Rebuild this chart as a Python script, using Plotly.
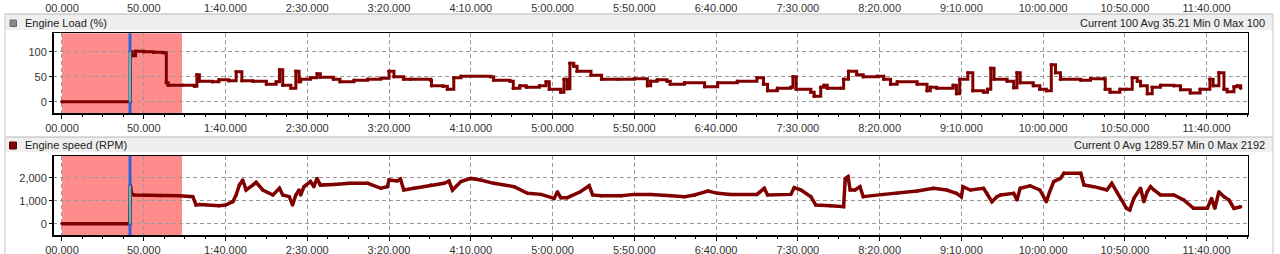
import plotly.graph_objects as go

W, H = 1280, 254

# ---------------- data ----------------
tick_vals = [0, 50, 100, 150, 200, 250, 300, 350, 400, 450, 500, 550, 600, 650, 700]
tick_text = ["00.000", "50.000", "1:40.000", "2:30.000", "3:20.000", "4:10.000", "5:00.000",
             "5:50.000", "6:40.000", "7:30.000", "8:20.000", "9:10.000", "10:00.000",
             "10:50.000", "11:40.000"]

load_t = [0, 41.5, 41.8, 43, 45, 50, 56, 61.8, 63.8, 65, 74, 81, 82.5, 84, 92, 96, 102, 106.5, 110,
          116.7, 125, 131, 133, 135, 140, 143, 145,
          146, 152, 156, 158, 166, 170, 178.6, 187, 195, 200, 203, 209, 213, 225.5, 226, 233, 235.7,
          239.6, 244, 262, 264, 274, 276, 280, 284, 292, 296, 298, 305, 307, 309, 310.6, 313, 315,
          323.5, 330, 340, 350, 358,
          360, 364, 370, 372, 380.7, 393, 401, 413, 425, 429, 431.5, 437.5, 445.7, 447, 449, 458, 460,
          464, 466, 468, 476, 478, 481, 486, 490, 498.6, 502.6, 506.7, 510.8, 523, 529, 531, 535, 545,
          547, 549, 554, 557, 563.6,
          566, 568, 570, 578, 582, 584, 586, 594, 598, 602, 605, 607.6, 610.6, 623, 629, 637, 638, 641,
          647, 651, 654.5, 657.6, 659.6, 663.7, 666.7, 671.8, 680, 684, 690, 696, 702, 704, 707.5,
          710.6, 712.6, 716.7, 718.7, 720.8]
load_v = [0, 0, 100, 92, 101, 100, 99, 98, 38, 33, 33, 31, 54, 41, 40, 44, 42, 60, 42,
          41, 35, 40, 64, 33, 27, 61, 40,
          45, 48, 56, 49, 45, 40, 43, 45, 47, 61, 50, 45, 45, 43, 32, 31, 25,
          48, 51, 50, 43, 41, 27, 32, 29, 32, 40, 25, 19, 45, 26, 77, 71, 61,
          53, 45, 45, 46, 32,
          41, 44, 41, 35, 38, 30, 38, 41, 48, 35, 22, 27, 29, 50, 25, 19, 11,
          29, 33, 27, 27, 45, 61, 54, 50, 51, 45, 35, 40, 35, 22, 29, 27, 33,
          16, 45, 58, 22, 19,
          25, 67, 45, 41, 28, 58, 38, 32, 25, 22, 74, 58, 45, 43, 46, 46, 25, 19,
          25, 25, 48, 41, 32, 16, 29, 33, 32, 24, 17.5, 25, 45, 32, 58,
          25, 20, 30, 32, 27]

speed_t = [0, 41.5, 41.8, 42.5, 44, 50, 60, 72, 80, 82, 84, 96, 100, 104.5, 106.5, 108.5, 110.5,
           112.6, 116.7, 118.7, 122.8, 129, 133, 135, 139, 141, 143, 145,
           146, 148, 152, 154, 156, 158, 166, 176, 187, 195, 199, 200, 205, 207, 209, 215, 225.5,
           233.7, 236.7, 238.8, 244, 250, 256, 264, 276.5, 284.7, 293, 301, 303, 305, 309, 317,
           322.4, 324.5, 329.6, 342, 350, 360,
           372.6, 380.7, 386.8, 395, 401, 409, 425, 429.5, 431.5, 445.7, 447.8, 452, 458, 461, 470,
           478, 479, 480.7, 482, 485, 488, 490, 502.6, 510.8, 523, 533, 541, 547, 550, 551, 555.5,
           563.6, 565.7, 568.7, 571.8,
           574, 582, 584, 586, 592, 598, 602, 604, 606.5, 610.6, 612.7, 623, 625, 631, 639, 642,
           645, 651, 653, 655.5, 659.6, 661.6, 663.7, 665.7, 667.8, 671.8, 680, 686, 692, 700.4,
           703, 705, 707.5, 710.6, 713.7, 716.7, 720.8]
speed_v = [0, 0, 1680, 1320, 1250, 1250, 1220, 1220, 1175, 812, 830, 783, 810, 957, 1250, 1680, 1900,
           1465, 1680, 1800, 1465, 1250, 1540, 1250, 1175, 812, 1250, 1465,
           1250, 1610, 1830, 1610, 1970, 1680, 1710, 1755, 1755, 1540, 1610, 1900, 1855, 1940, 1465,
           1540, 1680, 1755, 1855, 1465, 1830, 1970, 1900, 1755, 1610, 1320, 1275, 1100, 1390, 1130,
           1130, 1390, 1650, 1250, 1220, 1220, 1275, 1275,
           1220, 1175, 1250, 1420, 1320, 1275, 1275, 1540, 1250, 1275, 1570, 1465, 1175, 812, 783,
           740, 1970, 2045, 1465, 1465, 1610, 1175, 1275, 1320, 1420, 1540, 1465, 1320, 1175, 1610,
           1465, 1540, 1320, 957, 1175,
           1250, 1320, 1030, 1540, 1650, 1465, 957, 1390, 1830, 1970, 2190, 2192, 1680, 1610, 1465,
           1755, 1390, 667, 595, 1100, 1540, 957, 1390, 1610, 1465, 1250, 1250, 1030, 667, 667,
           1100, 667, 1390, 1175, 1030, 667, 740]

cursor_t = 41.6
cursor_load = 100
cursor_speed = 1650
shade_start, shade_end = 0, 73.4

load_title = "Engine Load (%)"
speed_title = "Engine speed (RPM)"
load_stats = "Current 100 Avg 35.21 Min 0 Max 100"
speed_stats = "Current 0 Avg 1289.57 Min 0 Max 2192"

# ---------------- layout helpers ----------------
def fx(x):
    return x / W

def fy(y):
    return 1 - y / H

FONT = "Liberation Sans"
DARK = "#800000"
XRANGE = [-5.5, 725.3]

fig = go.Figure()
fig.add_trace(go.Scatter(x=load_t, y=load_v, mode="lines+markers", xaxis="x", yaxis="y",
                         line=dict(color=DARK, width=3, shape="hv"), marker=dict(color=DARK, size=3.5),
                         showlegend=False, hoverinfo="skip"))
fig.add_trace(go.Scatter(x=speed_t, y=speed_v, mode="lines+markers", xaxis="x2", yaxis="y2",
                         line=dict(color=DARK, width=3.5), marker=dict(color=DARK, size=3.5),
                         showlegend=False, hoverinfo="skip"))
# invisible trace so the top strip axis is drawn
fig.add_trace(go.Scatter(x=[XRANGE[0]], y=[0], mode="markers", xaxis="x3", yaxis="y3",
                         marker=dict(opacity=0), showlegend=False, hoverinfo="skip"))

xcommon = dict(range=XRANGE, tickmode="array", tickvals=tick_vals, ticktext=tick_text,
               showgrid=True, gridcolor="#9a9a9a", griddash="4px,3px", gridwidth=1,
               ticks="outside", ticklen=4, tickcolor="#000", zeroline=False, automargin=False,
               showline=True, linecolor="#000", linewidth=1, mirror=True,
               tickfont=dict(family=FONT, size=11, color="#333"),
               minor=dict(tickmode="linear", tick0=0, dtick=12.5, ticks="outside", ticklen=2,
                          tickcolor="#000", showgrid=False))
ycommon = dict(showgrid=True, gridcolor="#9a9a9a", griddash="4px,3px", gridwidth=1,
               ticks="outside", ticklen=3, tickcolor="#000", zeroline=False, automargin=False,
               showline=True, linecolor="#000", linewidth=1, mirror=True,
               tickfont=dict(family=FONT, size=11, color="#333"))

xdom = [fx(53), fx(1248)]
fig.update_layout(
    template="none",
    width=W, height=H, margin=dict(l=0, r=0, t=0, b=0, pad=0),
    paper_bgcolor="white", plot_bgcolor="rgba(0,0,0,0)",
    xaxis=dict(domain=xdom, anchor="y", **xcommon),
    yaxis=dict(domain=[fy(114), fy(33.3)], anchor="x", range=[-24.6, 136.8],
               tickvals=[0, 50, 100], **ycommon),
    xaxis2=dict(domain=xdom, anchor="y2", **xcommon),
    yaxis2=dict(domain=[fy(236), fy(155.7)], anchor="x2", range=[-535, 2957],
                tickvals=[0, 1000, 2000], tickformat=",d", **ycommon),
    xaxis3=dict(domain=xdom, anchor="y3", range=XRANGE, tickmode="array",
                tickvals=tick_vals, ticktext=tick_text, showgrid=False, showline=False,
                ticks="", zeroline=False, automargin=False,
                tickfont=dict(family=FONT, size=11, color="#333")),
    yaxis3=dict(domain=[fy(0.3), 1], anchor="x3", visible=False, range=[-1, 1]),
)

shapes = []
# panel frames / header bars
for (top, bottom, hb) in [(14, 136, 30), (137, 260, 152)]:
    shapes.append(dict(type="rect", xref="paper", yref="paper", x0=fx(5), x1=fx(1273),
                       y0=fy(hb), y1=fy(top), fillcolor="#efefef", line=dict(width=0), layer="below"))
    shapes.append(dict(type="line", xref="paper", yref="paper", x0=fx(5), x1=fx(1273),
                       y0=fy(top), y1=fy(top), line=dict(color="#b8b8b8", width=1)))
    for xx in (5, 1273):
        shapes.append(dict(type="line", xref="paper", yref="paper", x0=fx(xx), x1=fx(xx),
                           y0=fy(bottom), y1=fy(top), line=dict(color="#c8c8c8", width=1)))
# header icons
shapes.append(dict(type="rect", xref="paper", yref="paper", x0=fx(10), x1=fx(16.5),
                   y0=fy(26.5), y1=fy(20), fillcolor="#8a8a8a", line=dict(color="#6a6a6a", width=1)))
shapes.append(dict(type="rect", xref="paper", yref="paper", x0=fx(9.5), x1=fx(16.5),
                   y0=fy(149), y1=fy(142), fillcolor=DARK, line=dict(color="#600000", width=1)))

for xa, ya, cv in [("x", "y", cursor_load), ("x2", "y2", cursor_speed)]:
    # red shaded selection
    shapes.append(dict(type="rect", xref=xa, yref=ya + " domain", x0=shade_start, x1=shade_end,
                       y0=0, y1=1, fillcolor="#ff8c8c", line=dict(width=0), layer="below"))
    # cursor
    shapes.append(dict(type="line", xref=xa, yref=ya + " domain", x0=cursor_t, x1=cursor_t,
                       y0=0, y1=1, line=dict(color="#2f62d6", width=3)))
    shapes.append(dict(type="line", xref=xa, yref=ya, x0=cursor_t, x1=cursor_t,
                       y0=0, y1=cv, line=dict(color="#6fe08a", width=1.5)))
    # thicker left / bottom frame
    shapes.append(dict(type="line", xref=xa + " domain", yref=ya + " domain", x0=0, x1=0,
                       y0=0, y1=1, line=dict(color="#000", width=2)))
    shapes.append(dict(type="line", xref=xa + " domain", yref=ya + " domain", x0=0, x1=1,
                       y0=0, y1=0, line=dict(color="#000", width=2)))
fig.update_layout(shapes=shapes)

ann = []
for title, stats, yc in [(load_title, load_stats, 22.8), (speed_title, speed_stats, 145)]:
    ann.append(dict(text=title, xref="paper", yref="paper", x=fx(23), y=fy(yc), xanchor="left",
                    yanchor="middle", showarrow=False, font=dict(family=FONT, size=11, color="#222")))
    ann.append(dict(text=stats, xref="paper", yref="paper", x=fx(1267), y=fy(yc), xanchor="right",
                    yanchor="middle", showarrow=False, font=dict(family=FONT, size=11, color="#222")))
fig.update_layout(annotations=ann)

fig.write_html("out.html")
